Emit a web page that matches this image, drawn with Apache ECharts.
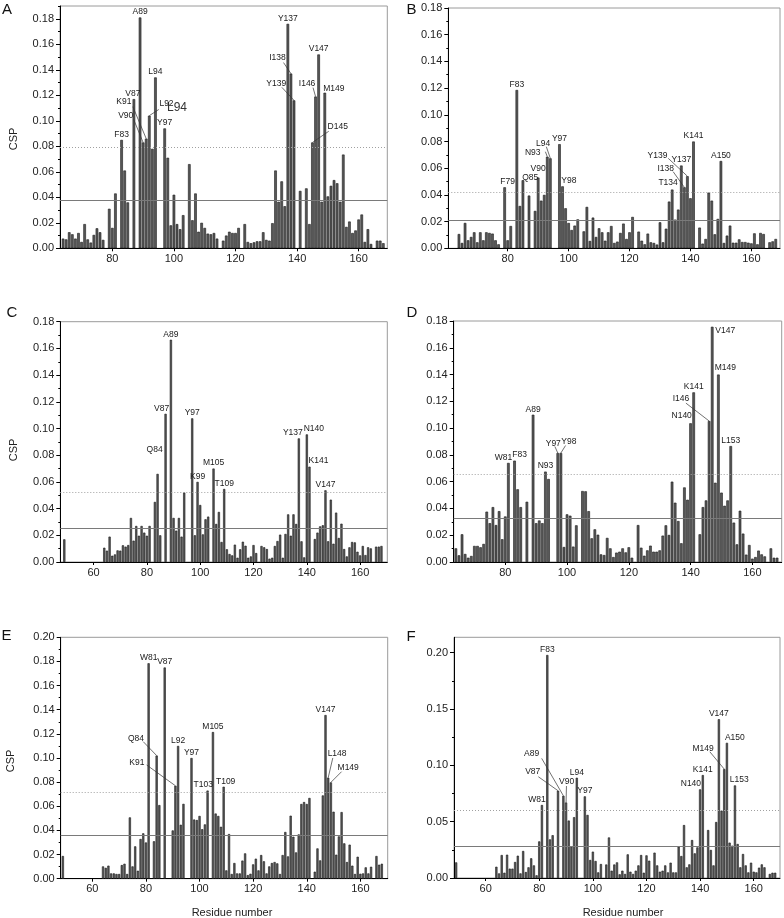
<!DOCTYPE html>
<html><head><meta charset="utf-8">
<script src="https://cdn.jsdelivr.net/npm/echarts@6/dist/echarts.min.js"></script>
<style>html,body{margin:0;padding:0;background:#fff}#c{width:784px;height:918px}</style>
</head><body><div id="c"></div><script>
// ---------- data ----------
const FIRST_RES = 64; // values below run from residue 64 to 168 (0 = no data)
const cspA = [
.0076,.007,.0126,.011,.0076,.012,.005,.019,.007,.0045,
.0105,.0157,.0126,.0066,0,.031,.016,.043,0,.085,
.061,.036,0,.117,0,.181,.083,.086,.104,.078,
.134,0,0,.094,.071,.018,.042,.019,.015,.026,
0,.066,.022,.043,.013,.020,.016,.0115,.011,.012,
.0076,0,.006,.010,.013,.012,.012,.016,0,.019,
.005,.004,.0047,.0055,.0055,.0126,.0066,.006,.0197,.061,
.0365,.0525,.033,.176,.137,.116,0,.045,0,.047,
.019,.083,.119,.152,.0365,.122,.0407,.049,.0535,.051,
.0365,.0735,.0168,.021,.012,.014,.0226,.0265,.005,.015,
.0034,0,.006,.006,.004];
const cspB = [
.0107,.004,.019,.006,.0085,.012,.0045,.012,.006,.012,
.0115,.011,.006,.003,0,.0457,.006,.0167,0,.1186,
.0317,.051,0,.0395,0,.028,.053,.0357,.040,.0686,
.0674,0,0,.078,.0464,.030,.019,.0137,.017,.0217,
0,.0127,.031,.0055,.023,.0085,.015,.012,.0057,.012,
.0167,.004,.005,.0115,.0185,.007,.012,.0235,0,.0125,
.0057,.003,.011,.0045,.004,.0028,.0195,.0045,.0147,.035,
.044,.0215,.029,.062,.0457,.054,.0375,.080,0,.0155,
.0035,.007,.0417,.0357,.0105,.022,.0654,.004,.0095,.017,
.0042,.0042,.0067,.0047,.0047,.0042,.0037,.0112,.003,.0115,
.0107,0,.0045,.0052,.007];
const cspC = [
.0107,.0085,.019,.0047,.0057,.0087,.0085,.0125,.0115,.0127,
.033,.016,.027,.0197,.027,.022,.0197,.027,0,.045,
.066,.020,0,.111,0,.1665,.033,.0235,.033,.019,
.052,0,0,.1076,.020,.060,.0427,.0207,.032,.034,
0,.070,.0285,.0375,.015,.0547,.0095,.006,.005,.013,
.0032,.0095,.0152,.0122,.0032,.0042,.0127,.0067,0,.012,
.011,.0097,.0025,.0032,.012,.0157,.0205,.0032,.021,.0357,
.0197,.0357,.0285,.0926,.0155,.0035,.0956,.0714,0,.0172,
.022,.0267,.0275,.0537,.0155,.0467,.0137,.037,.018,.0287,
.0097,.0042,.011,.015,.0147,.0077,.005,.012,.0052,.011,
.0102,0,.0115,.0115,.012];
const cspD = [
.0102,.005,.0207,.006,.0032,.0045,.012,.012,.011,.0135,
.0376,.029,.041,.0276,.038,.017,.034,.074,0,.0757,
.0543,.041,0,.045,0,.110,.029,.031,.029,.0675,
.062,0,0,.0814,.0814,.0112,.0356,.0346,.0115,.0274,
0,.053,.0528,.038,.0177,.0244,.0204,.0057,.0052,.018,
.0102,.0037,.007,.0077,.0102,.0072,.011,.0032,0,.0276,
.0107,.0047,.0087,.0122,.0077,.0077,.0087,.0197,.0274,.0202,
.060,.0443,.0306,.014,.0557,.0465,.1036,.1267,0,.0207,
.041,.046,.1053,.1757,.0592,.140,.0518,.042,.046,.0866,
.0294,.0132,.0383,.0212,.0055,.0127,.0025,.0037,.0085,.0057,
.0042,0,.0102,.0032,.0032];
const cspE = [
.0102,.009,.0108,.0044,.0044,.0039,.0039,.0113,.0124,.0039,
.0508,.0102,.0268,.0066,.0329,.0376,.030,.1785,0,.031,
.102,.061,0,.175,0,0,.040,.077,.110,.0447,
.062,0,0,.100,.049,.0486,.052,.041,.045,.073,
0,.1215,.054,.052,.043,.0762,.0069,.037,.0039,.013,
.0044,.0044,.015,.021,.003,.0041,.0119,.0166,.0069,.0196,
.0144,.0044,.0102,.013,.0138,.0127,.0039,.0196,.0387,.0185,
.0522,.0348,.0218,.0367,.0619,.0635,.0619,.0669,0,.0058,
.0251,.0152,.069,.1356,.0837,.0798,.0555,.0199,.0351,.0552,
.0293,.0138,.0282,.0108,.0039,.0182,.0041,.0044,.0094,.0044,
.0099,0,.0188,.0116,.0124];
const cspF = [
.010,.0041,.0204,.0047,.0207,.0083,.0083,.0142,.0198,.0041,
.024,.0053,.0095,.0175,.0112,.0024,.0325,.0648,0,.198,
.0343,.038,0,.0775,0,.073,.067,.051,.028,.054,
.089,0,0,.0725,.056,.016,.0234,.0151,.005,.0124,
0,.012,.036,.0065,.012,.0139,.0033,.0065,.0036,.021,
.0056,.0036,.0065,.0112,.0204,.0047,.0201,.0154,0,.0225,
.0112,.0056,.0065,.0112,.005,.0136,.005,.005,.0278,.0195,
.047,.0095,.0121,.0337,.0219,.0272,.0787,.0914,0,.0426,
.0249,.0112,.0497,.141,.0598,.0967,.120,.0314,.0287,.0822,
.0302,.0095,.0213,.0112,.005,.0136,.0056,.005,.0092,.0121,
.0095,0,.0036,.0047,.0047];
// isolated N-terminal residue (residue, CSP)
const nTermC = [[49, 0.017]];
const nTermE = [[49, 0.0188]];
const nTermF = [[49, 0.0139]];
// mean (solid) and threshold (dotted) lines
const meanLines = {A:0.0375, B:0.021, C:0.0252, D:0.0326, E:0.0356, F:0.0278};
const cutLines  = {A:0.079,  B:0.042, C:0.0519, D:0.0652, E:0.0713, F:0.0604};
// labelled residues
const labelsA = ['F83','V87','K91','V90','L92','A89','L94','Y97','Y137','I138','Y139','I146','V147','M149','D145'];
const labelsB = ['F79','F83','Q85','V90','N93','L94','Y97','Y98','T134','Y137','I138','Y139','K141','A150'];
const labelsC = ['Q84','V87','A89','Y97','K99','M105','T109','Y137','N140','K141','V147'];
const labelsD = ['W81','F83','A89','N93','Y97','Y98','N140','K141','I146','V147','M149','L153'];
const labelsE = ['W81','Q84','V87','K91','L92','Y97','T103','M105','T109','V147','L148','M149'];
const labelsF = ['W81','F83','V87','A89','V90','L94','Y97','N140','K141','V147','M149','A150','L153'];
// tick labels
const xTicksShort = [80,100,120,140,160];
const xTicksLong  = [60,80,100,120,140,160];
const yTicks018 = [0,0.02,0.04,0.06,0.08,0.10,0.12,0.14,0.16,0.18];
const yTicks020 = [0,0.02,0.04,0.06,0.08,0.10,0.12,0.14,0.16,0.18,0.20];
const yTicksF   = [0,0.05,0.10,0.15,0.20];
const yMinor02  = [0.01,0.03,0.05,0.07,0.09,0.11,0.13,0.15,0.17,0.19];
const yMinorF   = [0.025,0.075,0.125,0.175];

// ---------- layout (positions / styles) ----------
const FONT = '"Liberation Sans", Arial, Helvetica, sans-serif';
const panels = [
 {key:'A', vals:cspA, nterm:null, labels:labelsA, grid:[60,6,327.3,242.3], x:[63,169.3], ymax:0.19, yt:yTicks018, ym:yMinor02, xt:xTicksShort, bw:2.6},
 {key:'B', vals:cspB, nterm:null, labels:labelsB, grid:[448.3,8,331.7,240.3], x:[60.5,169.4], ymax:0.18, yt:yTicks018, ym:yMinor02, xt:xTicksShort, bw:2.6},
 {key:'C', vals:cspC, nterm:nTermC, labels:labelsC, grid:[60.3,321.7,327,240.3], x:[47.5,170.2], ymax:0.18, yt:yTicks018, ym:yMinor02, xt:xTicksLong, bw:2.2},
 {key:'D', vals:cspD, nterm:null, labels:labelsD, grid:[453.7,321,328,241], x:[63.3,169.5], ymax:0.18, yt:yTicks018, ym:yMinor02, xt:xTicksShort, bw:2.6},
 {key:'E', vals:cspE, nterm:nTermE, labels:labelsE, grid:[60.7,637.3,327,241.4], x:[48.2,170.2], ymax:0.20, yt:yTicks020, ym:yMinor02, xt:xTicksLong, bw:2.2},
 {key:'F', vals:cspF, nterm:nTermF, labels:labelsF, grid:[454,637.3,326,240.7], x:[48.2,169.8], ymax:0.2137, yt:yTicksF, ym:yMinorF, xt:xTicksLong, bw:2.2}
];
// label offsets from bar top: [dx, dy, lineStartDx, lineStartDy]
const labelOffsets = {
 A:{K91:[-22.4,-32,-13.4,-32], V90:[-17.4,-21.9,-9.4,-22.9], L92:[17.2,-7.2,9.5,-6.2], I138:[-13.4,-11.6,-7.4,-11], Y139:[-17.8,-12,-12.1,-13], I146:[-8.5,-8.2,-2.5,-8.9], M149:[9,0], D145:[25.3,-11.6,16.3,-11.2], V87:[-1,-1]},
 B:{F79:[3,-1], Q85:[7.3,1.5], V90:[0,-4], N93:[-14.6,0,-1.9,-5], L94:[-7.3,-10,-4,-11.6], Y98:[6.3,-1.3], Y139:[-29.9,-16.5,-19.2,-17.9], I138:[-18.6,-14.6,-11.2,-15.6], T134:[-4.1,-2.9]},
 C:{V87:[-4,-1], Q84:[-3,-19.8], Y137:[-6,-1], N140:[7,-1], K141:[9,-2]},
 D:{W81:[-5,-1], F83:[5,-1], Y97:[-4.5,-5.2,-2.9,-6.5], Y98:[8,-6.9,4.7,-7.5], V147:[13,8.7], M149:[6.9,-2.5], I146:[-28.2,-17.9,-23.2,-17.9], N140:[-8.9,-3.5]},
 E:{T109:[2,-1], Q84:[-20.7,-12.3,-13.4,-13.9], K91:[-38.5,-19.1,-28.8,-20.8], T103:[-4.4,-1], L148:[8.9,-19.7,4.6,-19.7], M149:[17.3,-10.1,10.7,-10.7]},
 F:{W81:[-5,-1], V87:[-25.3,-15,-19.7,-14], A89:[-31.7,-37.4,-21.7,-37.4], V90:[0.6,-16.8,0.4,-16.5], A150:[7.9,-0.5], M149:[-21.1,-15.7,-14.4,-17.3], N140:[-9.2,-1.3], L153:[4.2,-1.4]}
};

function toPairs(vals, nterm) {
  const out = nterm ? nterm.slice() : [];
  vals.forEach((v, i) => { if (v > 0) out.push([FIRST_RES + i, v]); });
  return out;
}

const grids = [], xAxes = [], yAxes = [], series = [];
panels.forEach((p, i) => {
  grids.push({left:p.grid[0], top:p.grid[1], width:p.grid[2], height:p.grid[3], show:true,
    borderColor:'#9a9a9a', borderWidth:1, outerBoundsMode:'none', containLabel:false});
  xAxes.push({gridIndex:i, type:'value', min:p.x[0], max:p.x[1],
    axisLine:{show:true, onZero:false, lineStyle:{color:'#000', width:1}},
    axisTick:{show:true, customValues:p.xt, length:3, lineStyle:{color:'#000'}},
    axisLabel:{customValues:p.xt, fontSize:11, color:'#222', fontFamily:FONT, margin:5},
    splitLine:{show:false}});
  yAxes.push({gridIndex:i, type:'value', min:0, max:p.ymax, position:'left',
    axisLine:{show:true, onZero:false, lineStyle:{color:'#000', width:1}},
    axisTick:{show:true, customValues:p.yt, length:4, lineStyle:{color:'#000'}},
    axisLabel:{customValues:p.yt, fontSize:11, color:'#222', fontFamily:FONT, margin:6, formatter:v=>v.toFixed(2)},
    splitLine:{show:false}});
  yAxes.push({gridIndex:i, type:'value', min:0, max:p.ymax, position:'left',
    axisLine:{show:false},
    axisTick:{show:true, customValues:p.ym, length:2, lineStyle:{color:'#000'}},
    axisLabel:{show:false}, splitLine:{show:false}});
  const pairs = toPairs(p.vals, p.nterm);
  const lookup = {}; pairs.forEach(d => lookup[d[0]] = d[1]);
  series.push({type:'bar', xAxisIndex:i, yAxisIndex:2*i, data:pairs, barWidth:p.bw,
    itemStyle:{color:'#595959', borderColor:'#1a1a1a', borderWidth:0.6},
    markLine:{silent:true, precision:5, symbol:['none','none'], label:{show:false},
      data:[{yAxis:meanLines[p.key], lineStyle:{type:'solid', color:'#7a7a7a', width:1}},
            {yAxis:cutLines[p.key], lineStyle:{type:[1,2], color:'#a0a0a0', width:1}}]}});
  const offs = labelOffsets[p.key];
  const labData = p.labels.map((name, k) => { const r = parseInt(name.slice(1), 10); return [r, lookup[r], k]; });
  series.push({type:'custom', xAxisIndex:i, yAxisIndex:2*i, clip:false, silent:true, z:10,
    data:labData,
    renderItem:(params, api) => {
      const name = p.labels[api.value(2)];
      const pt = api.coord([api.value(0), api.value(1)]);
      const o = offs[name] || [0, -1];
      const ch = [];
      if (o.length > 2) ch.push({type:'line', shape:{x1:pt[0]+o[2], y1:pt[1]+o[3], x2:pt[0], y2:pt[1]}, style:{stroke:'#333', lineWidth:0.7}});
      ch.push({type:'text', x:pt[0]+o[0], y:pt[1]+o[1], style:{text:name, fill:'#1a1a1a', font:'8.5px ' + FONT, align:'center', verticalAlign:'bottom'}});
      return {type:'group', children:ch};
    }});
});

const txt = (x, y, s, size, extra) => Object.assign({type:'text', x, y, style:{text:s, fill:'#111', font:size + 'px ' + FONT, align:'left', verticalAlign:'middle'}}, extra || {});
const graphic = [
  txt(2,10,'A',15), txt(406.5,10,'B',15), txt(6.5,313,'C',15), txt(406.5,313,'D',15), txt(1.5,636,'E',15), txt(406.5,637,'F',15),
  {type:'text', x:13.5, y:139, rotation:Math.PI/2, style:{text:'CSP', fill:'#222', font:'11px ' + FONT, align:'center', verticalAlign:'middle'}},
  {type:'text', x:13.5, y:450, rotation:Math.PI/2, style:{text:'CSP', fill:'#222', font:'11px ' + FONT, align:'center', verticalAlign:'middle'}},
  {type:'text', x:11, y:761, rotation:Math.PI/2, style:{text:'CSP', fill:'#222', font:'11px ' + FONT, align:'center', verticalAlign:'middle'}},
  {type:'text', x:232, y:913, style:{text:'Residue number', fill:'#222', font:'11px ' + FONT, align:'center', verticalAlign:'middle'}},
  {type:'text', x:623, y:913, style:{text:'Residue number', fill:'#222', font:'11px ' + FONT, align:'center', verticalAlign:'middle'}},
  {type:'text', x:177, y:108, style:{text:'L94', fill:'#333', font:'12px ' + FONT, align:'center', verticalAlign:'middle'}}
];

const chart = echarts.init(document.getElementById('c'), null, {renderer:'canvas'});
chart.setOption({animation:false, backgroundColor:'#fff', grid:grids, xAxis:xAxes, yAxis:yAxes, series, graphic});
</script></body></html>
